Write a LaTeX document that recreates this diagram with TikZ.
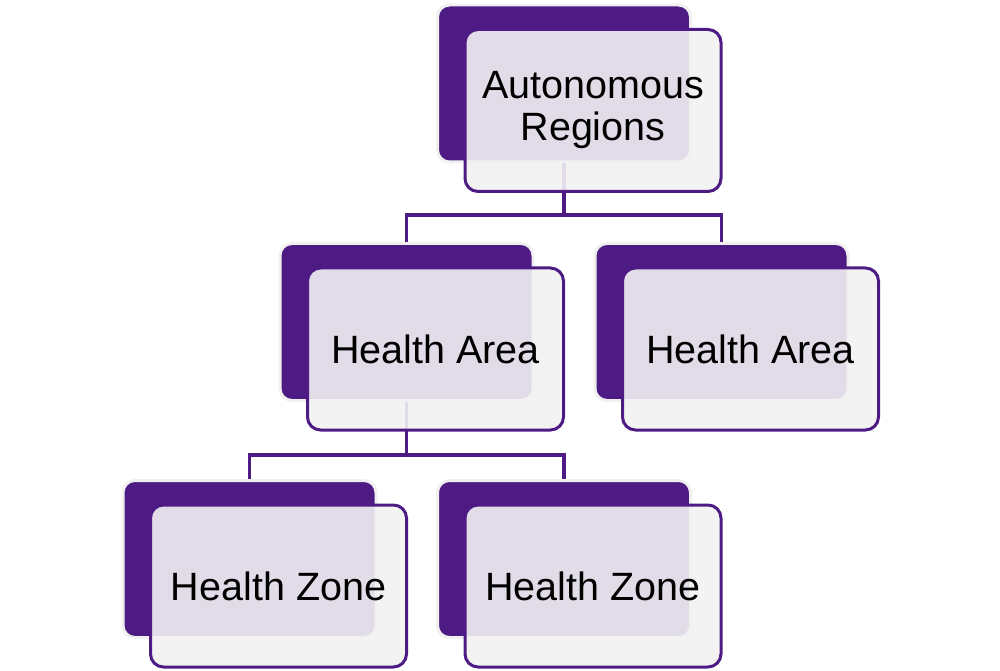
\documentclass[tikz,border=0pt]{standalone}
\usepackage{fontspec}
\setmainfont{Liberation Sans}
\usetikzlibrary{calc}
\definecolor{dpurple}{RGB}{78,27,133}
\definecolor{lgray}{RGB}{242,242,242}
\definecolor{edgegray}{RGB}{240,240,240}
\begin{document}
\begin{tikzpicture}[x=1pt,y=1pt,
  backbox/.style={draw=edgegray, line width=3pt, fill=dpurple, rounded corners=12pt,
    minimum width=253pt, minimum height=157pt, inner sep=0pt},
  frontbox/.style={draw=dpurple, line width=3pt, fill=lgray, fill opacity=0.9, draw opacity=1, text opacity=1,
    rounded corners=13pt, minimum width=256pt, minimum height=162pt, inner sep=0pt,
    align=center, font=\fontsize{39.5}{42}\selectfont, text=black},
  conn/.style={draw=dpurple, line width=3.2pt}]
\useasboundingbox (0,0) rectangle (1000,670);
% back boxes
\node[backbox] (b0) at (564,586.5) {};
\node[backbox] (b1) at (406.5,348) {};
\node[backbox] (b2) at (721.5,348) {};
\node[backbox] (b3) at (249.5,111) {};
\node[backbox] (b4) at (564,111) {};
% connectors
\coordinate (j0) at (564,455);
\coordinate (j1) at (406.5,215);
\draw[conn] (b0.south) -- (j0);
\draw[conn] (b1.north) |- (j0) -| (b2.north);
\draw[conn] (b1.south) -- (j1);
\draw[conn] (b3.north) |- (j1) -| (b4.north);
% front boxes
\node[frontbox] (f0) at ($(b0)+(29,-27)$) {Autonomous\\Regions};
\node[frontbox] (f1) at ($(b1)+(29,-27)$) {Health Area};
\node[frontbox] (f2) at ($(b2)+(29,-27)$) {Health Area};
\node[frontbox] (f3) at ($(b3)+(29,-27)$) {Health Zone};
\node[frontbox] (f4) at ($(b4)+(29,-27)$) {Health Zone};
\end{tikzpicture}
\end{document}
